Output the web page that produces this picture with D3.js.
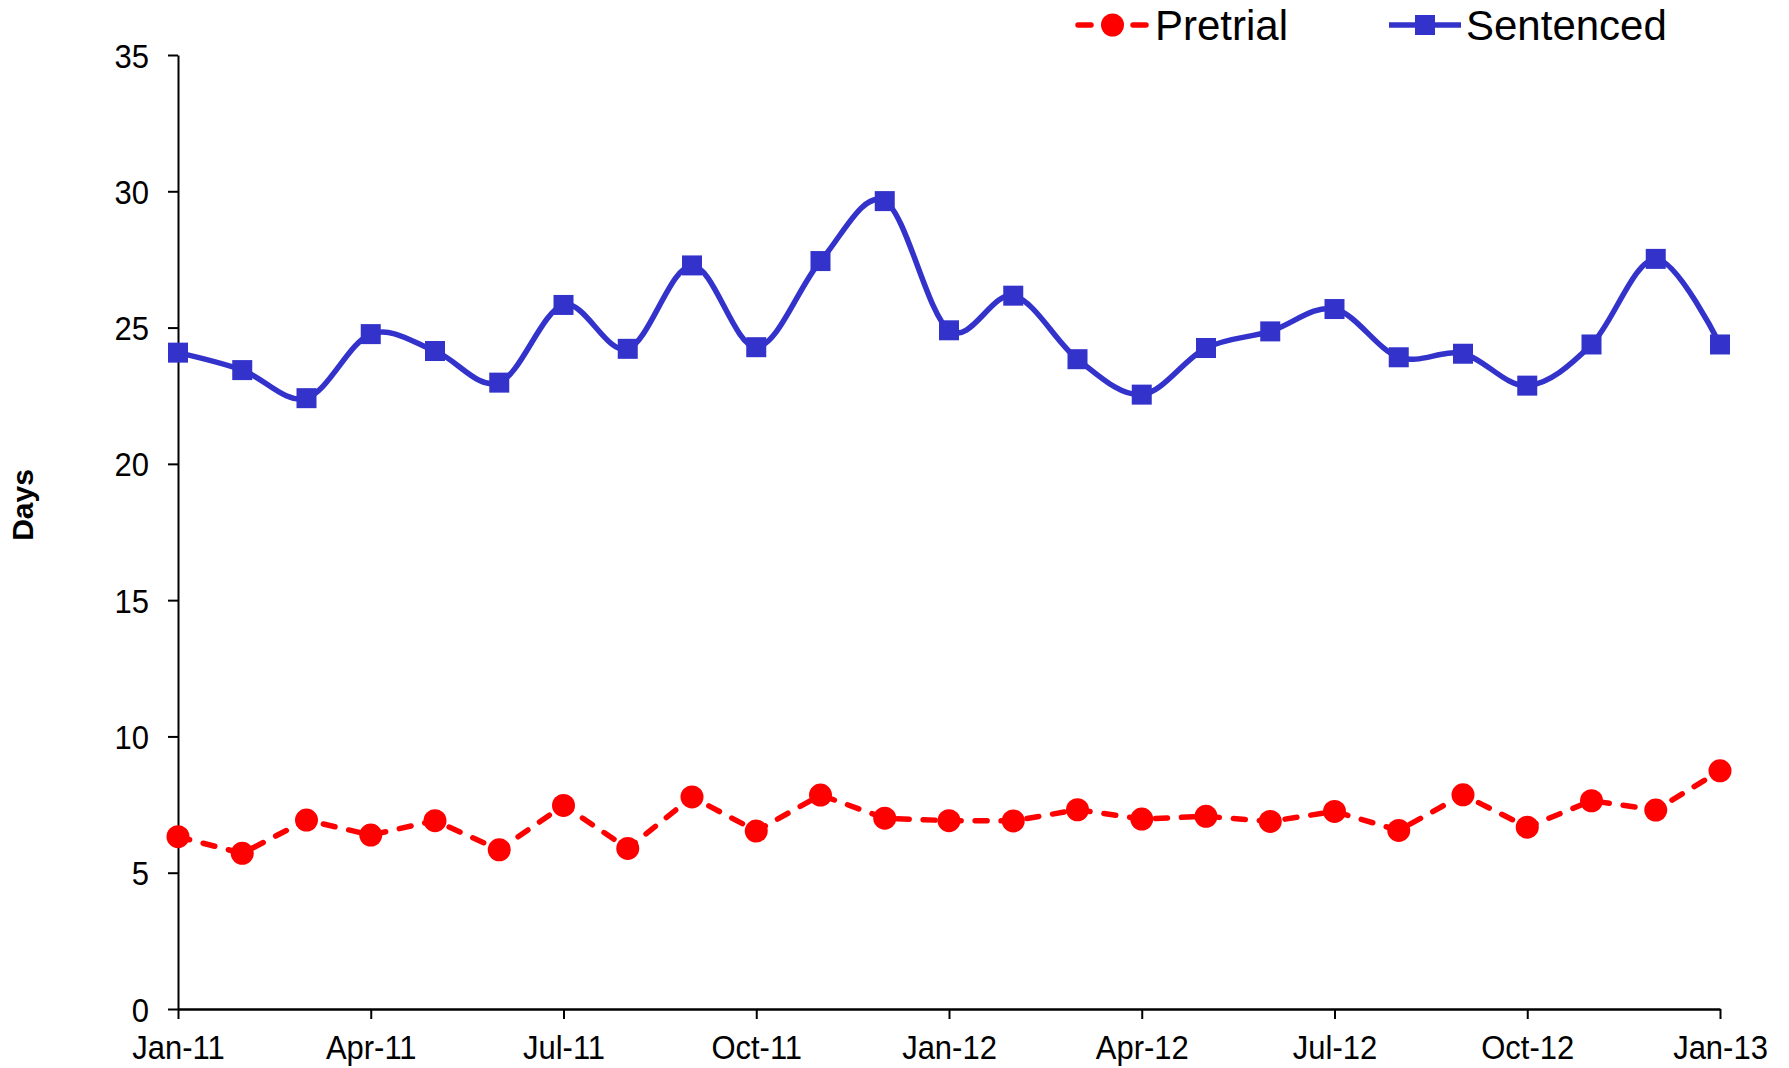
<!DOCTYPE html>
<html>
<head>
<meta charset="utf-8">
<script src="https://cdn.jsdelivr.net/npm/d3@7"></script>
<style>
  html, body { margin: 0; padding: 0; background: #fff; }
  svg { display: block; }
  text { font-family: "Liberation Sans", Arial, sans-serif; fill: #000; }
</style>
</head>
<body>
<svg id="chart" width="1789" height="1068"></svg>
<script>
// ---- data ----
const months = ["Jan-11","Feb-11","Mar-11","Apr-11","May-11","Jun-11","Jul-11","Aug-11","Sep-11","Oct-11","Nov-11","Dec-11",
                "Jan-12","Feb-12","Mar-12","Apr-12","May-12","Jun-12","Jul-12","Aug-12","Sep-12","Oct-12","Nov-12","Dec-12",
                "Jan-13"];
const pretrial = [6.32,5.71,6.93,6.38,6.91,5.84,7.47,5.89,7.78,6.53,7.85,7.00,
                  6.91,6.90,7.31,6.97,7.07,6.88,7.25,6.55,7.86,6.67,7.64,7.30,
                  8.74];
const sentenced = [24.08,23.44,22.41,24.76,24.14,22.98,25.83,24.22,27.28,24.28,27.44,29.64,
                   24.90,26.17,23.84,22.54,24.25,24.86,25.68,23.91,24.04,22.87,24.38,27.52,
                   24.38];
const xTickLabels = ["Jan-11","Apr-11","Jul-11","Oct-11","Jan-12","Apr-12","Jul-12","Oct-12","Jan-13"];
const yTicks = [0,5,10,15,20,25,30,35];
const seriesNames = ["Pretrial","Sentenced"];
const yTitle = "Days";

// ---- layout ----
const RED = "#ff0000", BLUE = "#3333cc";
const svg = d3.select("#chart");
const x = d3.scalePoint().domain(months).range([178, 1720]);
const y = d3.scaleLinear().domain([0, 35]).range([1009, 55]);

// axes
const yAxis = d3.axisLeft(y).tickValues(yTicks).tickSize(10).tickSizeOuter(0).tickPadding(19);
const gy = svg.append("g").attr("transform", `translate(${x(months[0])},0)`).call(yAxis);
gy.select(".domain").attr("stroke", "#000").attr("stroke-width", 2);
gy.selectAll(".tick line").attr("stroke", "#000").attr("stroke-width", 2);
gy.selectAll(".tick text").style("font-size", "31px").attr("dy", "0.36em")
  .attr("transform", "scale(1,1.08)");

const xAxis = d3.axisBottom(x).tickValues(xTickLabels).tickSize(10).tickSizeOuter(0).tickPadding(14);
const gx = svg.append("g").attr("transform", `translate(0,${y(0)})`).call(xAxis);
gx.select(".domain").attr("stroke", "#000").attr("stroke-width", 2.5);
gx.selectAll(".tick line").attr("stroke", "#000").attr("stroke-width", 2);
gx.selectAll(".tick text").style("font-size", "31px").attr("transform", "scale(1,1.08)");

// y title
svg.append("text")
  .attr("transform", "translate(33,505) rotate(-90)")
  .attr("text-anchor", "middle")
  .style("font-size", "30px").style("font-weight", "bold")
  .text(yTitle);

// pretrial: dashed straight line with circles
const lineP = d3.line().x((d, i) => x(months[i])).y(d => y(d));
svg.append("path").datum(pretrial)
  .attr("d", lineP).attr("fill", "none").attr("stroke", RED)
  .attr("stroke-width", 5.5).attr("stroke-dasharray", "12,14").attr("stroke-linecap", "round");
svg.append("g").selectAll("circle").data(pretrial).join("circle")
  .attr("cx", (d, i) => x(months[i])).attr("cy", d => y(d)).attr("r", 11.5).attr("fill", RED);

// sentenced: smoothed line with squares
const lineS = d3.line().x((d, i) => x(months[i])).y(d => y(d)).curve(d3.curveCatmullRom.alpha(0));
svg.append("path").datum(sentenced)
  .attr("d", lineS).attr("fill", "none").attr("stroke", BLUE).attr("stroke-width", 5.5);
const sq = 20;
svg.append("g").selectAll("rect").data(sentenced).join("rect")
  .attr("x", (d, i) => x(months[i]) - sq / 2).attr("y", d => y(d) - sq / 2)
  .attr("width", sq).attr("height", sq).attr("fill", BLUE);

// legend
const leg = svg.append("g");
const ly = 25;
leg.append("line").attr("x1", 1078).attr("x2", 1146).attr("y1", ly).attr("y2", ly)
  .attr("stroke", RED).attr("stroke-width", 5.5).attr("stroke-linecap", "round").attr("stroke-dasharray", "13,42");
leg.append("circle").attr("cx", 1112.5).attr("cy", ly).attr("r", 11.5).attr("fill", RED);
leg.append("text").attr("x", 1155).attr("y", 39.5).style("font-size", "42px").text(seriesNames[0]);
leg.append("line").attr("x1", 1389).attr("x2", 1461).attr("y1", ly).attr("y2", ly)
  .attr("stroke", BLUE).attr("stroke-width", 5.5);
leg.append("rect").attr("x", 1425 - sq / 2).attr("y", ly - sq / 2).attr("width", sq).attr("height", sq).attr("fill", BLUE);
leg.append("text").attr("x", 1466).attr("y", 39.5).style("font-size", "42px").text(seriesNames[1]);
</script>
</body>
</html>
